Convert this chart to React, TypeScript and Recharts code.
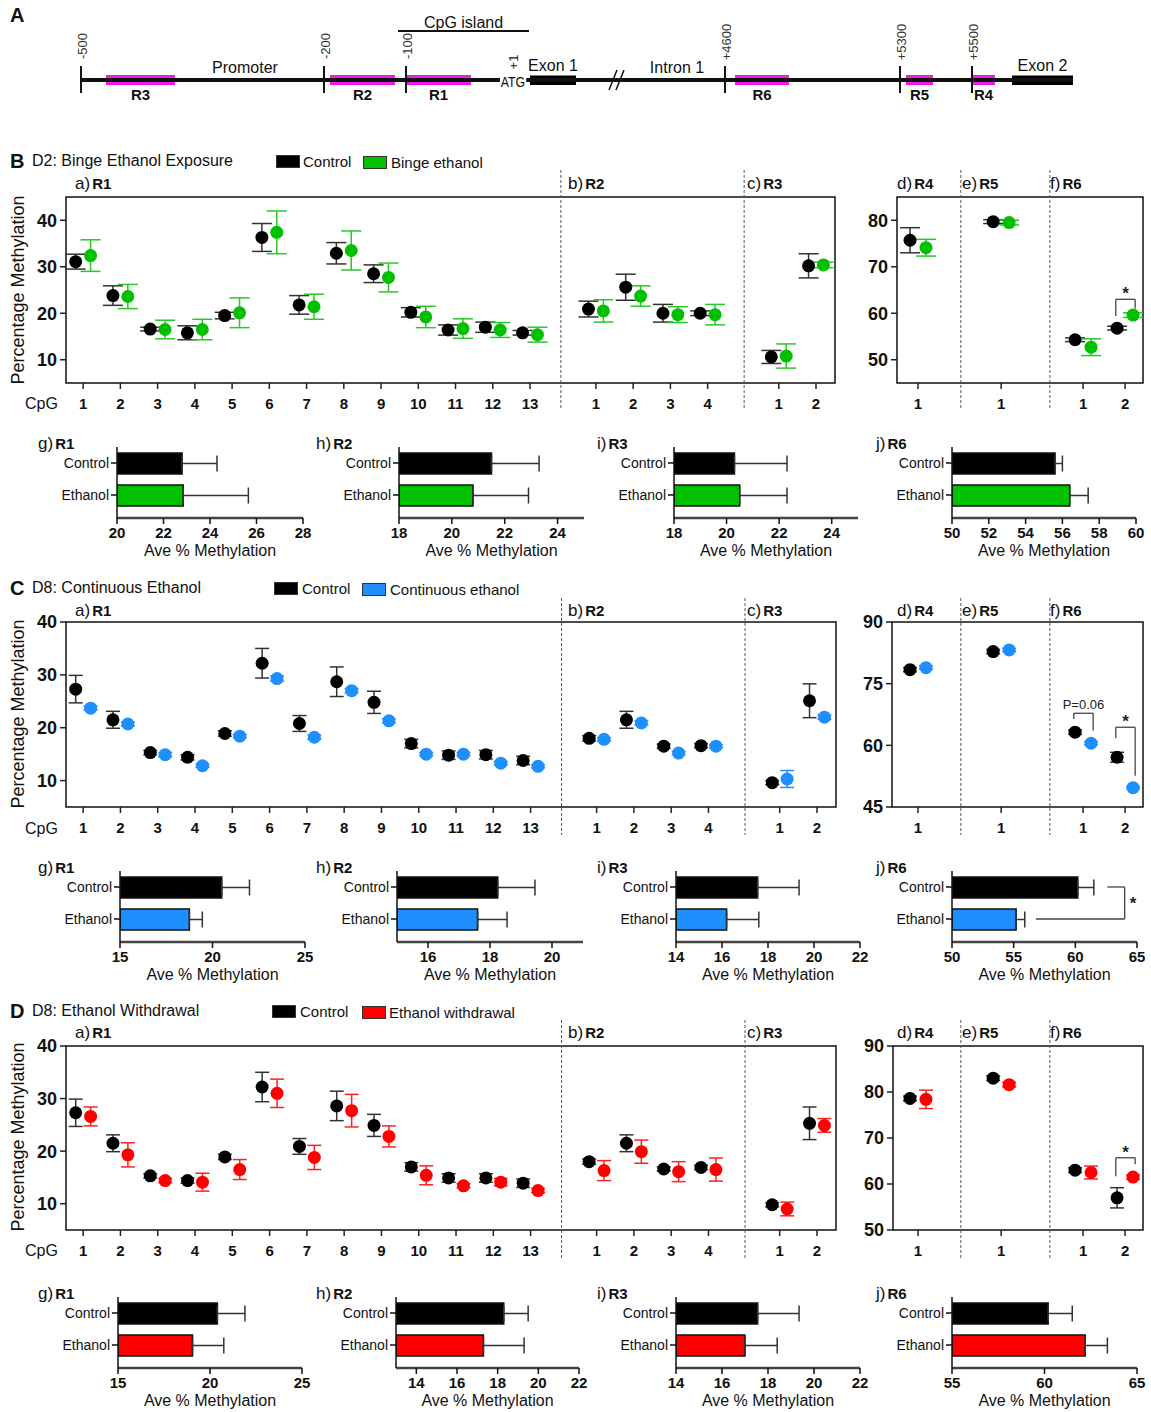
import React from "react";
import {
  ComposedChart, ScatterChart, Scatter, ErrorBar, XAxis, YAxis,
  ReferenceLine, ReferenceArea, BarChart, Bar, Cell,
} from "recharts";

const FONT = "'Liberation Sans', Arial, Helvetica, sans-serif";

// ---------- gene map (panel A), diagram units ----------
const backbone = [81, 1073];
const promoterTicks = [
  { label: "-500", pos: 81 }, { label: "-200", pos: 324 }, { label: "-100", pos: 406 },
  { label: "+4600", pos: 725 }, { label: "+5300", pos: 900 }, { label: "+5500", pos: 972 },
];
const ampliconRegions = [
  { name: "R3", from: 106, to: 175 }, { name: "R2", from: 330, to: 395 },
  { name: "R1", from: 406, to: 471 }, { name: "R6", from: 735, to: 789 },
  { name: "R5", from: 906, to: 933 }, { name: "R4", from: 972, to: 995 },
];
const exonBlocks = [
  { name: "Exon 1", from: 530, to: 576 },
  { name: "Exon 2", from: 1012, to: 1073 },
];
const cpgIsland = [398, 529];

// ---------- CpG tick labels ----------
const r1CpG = ["1", "2", "3", "4", "5", "6", "7", "8", "9", "10", "11", "12", "13"];
const r2CpG = ["1", "2", "3", "4"];
const r3CpG = ["1", "2"];
const r4CpG = ["1"];
const r5CpG = ["1"];
const r6CpG = ["1", "2"];

// ---------- B: D2 binge, [mean, sem] ----------
const bingeCtrlR1 = [[31.1, 1.6], [23.8, 2.1], [16.6, 0.4], [15.8, 1.5], [19.5, 0.7], [36.3, 3.0], [21.8, 2.0], [32.9, 2.3], [28.5, 1.9], [20.2, 1.0], [16.4, 1.1], [17.0, 1.1], [15.8, 0.5]];
const bingeEtohR1 = [[32.4, 3.4], [23.6, 2.6], [16.5, 2.0], [16.5, 2.2], [20.1, 3.2], [37.4, 4.6], [21.4, 2.7], [33.5, 4.2], [27.7, 3.1], [19.2, 2.3], [16.7, 2.1], [16.4, 1.6], [15.4, 1.6]];
const bingeCtrlR2 = [[20.9, 1.7], [25.6, 2.8], [20.0, 1.9], [20.0, 0.5]];
const bingeEtohR2 = [[20.5, 2.4], [23.7, 2.2], [19.7, 1.7], [19.7, 2.2]];
const bingeCtrlR3 = [[10.6, 1.4], [30.2, 2.6]];
const bingeEtohR3 = [[10.8, 2.6], [30.4, 0.6]];
const bingeCtrlR4 = [[75.7, 2.7]];
const bingeEtohR4 = [[74.1, 1.8]];
const bingeCtrlR5 = [[79.7, 0.4]];
const bingeEtohR5 = [[79.5, 0.5]];
const bingeCtrlR6 = [[54.3, 0.4], [56.8, 0.4]];
const bingeEtohR6 = [[52.7, 1.8], [59.6, 0.5]];
const bingeSig = [{ region: 2, idx: 1, level: 63.0, leftEnd: 59.4, rightEnd: 61.0, text: "*" }];

// ---------- C: D8 continuous ----------
const contCtrlR1 = [[27.3, 2.6], [21.5, 1.6], [15.3, 0.4], [14.4, 0.5], [18.9, 0.5], [32.2, 2.8], [20.8, 1.5], [28.7, 2.8], [24.8, 2.1], [17.0, 0.8], [14.8, 0.8], [14.9, 0.8], [13.8, 0.8]];
const contEtohR1 = [[23.7, 0.4], [20.7, 0.4], [14.9, 0.4], [12.8, 0.3], [18.4, 0.3], [29.3, 0.5], [18.2, 0.4], [27.0, 0.4], [21.3, 0.4], [15.0, 0.3], [15.0, 0.3], [13.3, 0.3], [12.7, 0.3]];
const contCtrlR2 = [[18.0, 0.5], [21.5, 1.6], [16.5, 0.4], [16.6, 0.4]];
const contEtohR2 = [[17.8, 0.3], [20.9, 0.4], [15.2, 0.3], [16.5, 0.3]];
const contCtrlR3 = [[9.6, 0.4], [25.1, 3.2]];
const contEtohR3 = [[10.3, 1.6], [22.0, 0.4]];
const contCtrlR4 = [[78.4, 0.5]];
const contEtohR4 = [[78.9, 0.4]];
const contCtrlR5 = [[82.8, 0.5]];
const contEtohR5 = [[83.2, 0.4]];
const contCtrlR6 = [[63.2, 0.5], [57.1, 1.2]];
const contEtohR6 = [[60.5, 0.4], [49.7, 0.3]];
const contSig = [
  { region: 2, idx: 0, level: 67.8, leftEnd: 66.4, rightEnd: 63.6, text: "P=0.06" },
  { region: 2, idx: 1, level: 64.4, leftEnd: 61.7, rightEnd: 52.6, text: "*" },
];

// ---------- D: D8 withdrawal ----------
const wdCtrlR1 = [[27.3, 2.6], [21.5, 1.6], [15.3, 0.4], [14.4, 0.5], [18.9, 0.5], [32.2, 2.8], [20.9, 1.5], [28.6, 2.8], [24.9, 2.1], [17.0, 0.8], [14.9, 0.8], [14.9, 0.8], [13.9, 0.8]];
const wdEtohR1 = [[26.6, 1.8], [19.3, 2.3], [14.4, 0.4], [14.1, 1.7], [16.5, 1.9], [31.0, 2.7], [18.8, 2.3], [27.7, 3.1], [22.8, 2.0], [15.4, 1.8], [13.4, 0.4], [14.1, 0.7], [12.5, 0.4]];
const wdCtrlR2 = [[18.0, 0.5], [21.5, 1.6], [16.6, 0.4], [16.9, 0.4]];
const wdEtohR2 = [[16.3, 1.9], [19.9, 2.2], [16.1, 1.9], [16.5, 2.2]];
const wdCtrlR3 = [[9.8, 0.4], [25.3, 3.1]];
const wdEtohR3 = [[9.0, 1.3], [24.9, 1.3]];
const wdCtrlR4 = [[78.6, 0.5]];
const wdEtohR4 = [[78.4, 2.0]];
const wdCtrlR5 = [[83.0, 0.5]];
const wdEtohR5 = [[81.6, 0.5]];
const wdCtrlR6 = [[63.0, 0.5], [57.0, 2.2]];
const wdEtohR6 = [[62.5, 1.4], [61.5, 0.5]];
const wdSig = [{ region: 2, idx: 1, level: 65.7, leftEnd: 61.7, rightEnd: 64.3, text: "*" }];

// ---------- averages (bars g-j) ----------
const barRegions = ["R1", "R2", "R3", "R6"];
const barLetters = ["g)", "h)", "i)", "j)"];
const bingeBarCtrl = [[22.8, 1.5], [21.5, 1.8], [20.3, 2.0], [55.6, 0.4]];
const bingeBarEtoh = [[22.85, 2.8], [20.8, 2.1], [20.5, 1.8], [56.4, 1.0]];
const bingeBarDomains = [[20, 28], [18, 25], [18, 25], [50, 60]];
const bingeBarTicks = [[20, 22, 24, 26, 28], [18, 20, 22, 24], [18, 20, 22, 24], [50, 52, 54, 56, 58, 60]];
const contBarCtrl = [[20.5, 1.5], [18.25, 1.2], [17.55, 1.8], [60.2, 1.3]];
const contBarEtoh = [[18.75, 0.7], [17.6, 0.95], [16.2, 1.4], [55.2, 0.7]];
const contBarDomains = [[15, 25], [15, 21], [14, 22], [50, 65]];
const contBarTicks = [[15, 20, 25], [16, 18, 20], [14, 16, 18, 20, 22], [50, 55, 60, 65]];
const contBarSig = [{ panel: 3, ctrlFrom: 62.6, etohFrom: 56.8, at: 64.0, text: "*" }];
const wdBarCtrl = [[20.4, 1.5], [18.3, 1.2], [17.55, 1.8], [60.2, 1.3]];
const wdBarEtoh = [[19.05, 1.7], [17.3, 2.0], [17.0, 1.4], [62.2, 1.2]];
const wdBarDomains = [[15, 25], [13, 22], [14, 22], [55, 65]];
const wdBarTicks = [[15, 20, 25], [14, 16, 18, 20, 22], [14, 16, 18, 20, 22], [55, 60, 65]];

// ---------- layout ----------
const MAIN_OFFSETS = [1, 14.77, 19.68];
const MAIN_DOMAIN = [0.54, 21.19];
const MAIN_DIVIDERS = [13.83, 18.75];
const SIDE_OFFSETS = [0, 1.98, 3.93];
const SIDE_DIVIDERS = [1.02, 3.14];
const SIDE_TICK0 = 918;
const SIDE_PX = 42;
const SIDE_RIGHT = 1143;

function toPoints(regions: number[][][], offsets: number[], shift: number) {
  return regions.flatMap((reg, r) => reg.map(([m, e], i) => ({ x: offsets[r] + i + shift, y: m, e })));
}
function toTicks(labels: string[][], offsets: number[]) {
  return labels.flatMap((ls, r) => ls.map((label, i) => ({ pos: offsets[r] + i, label })));
}

function Txt({ x, y, children, size = 16, bold = false, anchor = "start", rotate = 0, color = "#111", style = {} }: any) {
  const tx = anchor === "middle" ? "-50%" : anchor === "end" ? "-100%" : "0";
  return (
    <div
      style={{
        position: "absolute", left: x, top: y, whiteSpace: "nowrap", lineHeight: 1,
        transform: `translate(${tx}, -50%)${rotate ? ` rotate(${rotate}deg)` : ""}`,
        fontSize: size, fontWeight: bold ? 700 : 400, color, ...style,
      }}
    >
      {children}
    </div>
  );
}

function PanelTag({ x, y, tag, name }: any) {
  return (
    <div style={{ position: "absolute", left: x, top: y, transform: "translateY(-50%)", whiteSpace: "nowrap", lineHeight: 1 }}>
      <span style={{ fontSize: 17 }}>{tag}</span>
      <span style={{ fontSize: 15, fontWeight: 700, marginLeft: 2 }}>{name}</span>
    </div>
  );
}

function ScatterPanel(p: any) {
  const { left, width, top, height, plot, xDomain, yDomain, yTicks, ticks, dividers, ext, ctrl, trt, color, errColor, cap, brackets, offsets } = p;
  const xAxisH = 30;
  const margin = { top: plot.t - top, right: left + width - plot.r, bottom: top + height - plot.b - xAxisH, left: 2 };
  const perPx = (yDomain[1] - yDomain[0]) / (plot.b - plot.t);
  const yHi = yDomain[1] + (plot.t - ext[0]) * perPx;
  const yLo = yDomain[0] - (ext[1] - plot.b) * perPx;
  const labelOf = (v: number) => {
    const t = ticks.find((k: any) => Math.abs(k.pos - v) < 1e-6);
    return t ? t.label : "";
  };
  const dot = (fill: string) => (s: any) => <circle cx={s.cx} cy={s.cy} r={6.5} fill={fill} />;
  return (
    <div style={{ position: "absolute", left, top }}>
      <ScatterChart width={width} height={height} margin={margin}>
        <XAxis
          type="number" dataKey="x" domain={xDomain} ticks={ticks.map((t: any) => t.pos)} tickFormatter={labelOf}
          allowDataOverflow interval={0} height={xAxisH} axisLine={false}
          tickLine={{ stroke: "#222", strokeWidth: 1.5 }} tickSize={6} tickMargin={9}
          tick={{ fontSize: 15, fontWeight: 700, fill: "#111", fontFamily: FONT }}
        />
        <YAxis
          type="number" dataKey="y" domain={yDomain} ticks={yTicks} allowDataOverflow interval={0}
          width={plot.l - left - 2} axisLine={false} tickLine={{ stroke: "#222", strokeWidth: 1.5 }}
          tickSize={6} tickMargin={3}
          tick={{ fontSize: 18, fontWeight: 700, fill: "#111", fontFamily: FONT }}
        />
        <ReferenceArea x1={xDomain[0]} x2={xDomain[1]} y1={yDomain[0]} y2={yDomain[1]} fill="none" stroke="#111" strokeWidth={1.5} fillOpacity={0} ifOverflow="visible" />
        {dividers.map((d: number) => (
          <ReferenceLine key={`d${d}`} segment={[{ x: d, y: yHi }, { x: d, y: yLo }]} stroke="#555" strokeDasharray="3 2" strokeWidth={1} ifOverflow="visible" />
        ))}
        <Scatter data={ctrl} dataKey="y" fill="#000" shape={dot("#000")} isAnimationActive={false}>
          <ErrorBar dataKey="e" direction="y" width={cap} stroke="#333" strokeWidth={1.5} />
        </Scatter>
        <Scatter data={trt} dataKey="y" fill={color} shape={dot(color)} isAnimationActive={false}>
          <ErrorBar dataKey="e" direction="y" width={cap} stroke={errColor} strokeWidth={1.5} />
        </Scatter>
        {(brackets || []).flatMap((s: any, i: number) => {
          const pos = offsets[s.region] + s.idx;
          const xl = pos - 0.22;
          const xr = pos + 0.24;
          const star = s.text === "*";
          return [
            <ReferenceLine key={`bl${i}`} segment={[{ x: xl, y: s.leftEnd }, { x: xl, y: s.level }]} stroke="#444" strokeWidth={1.3} ifOverflow="visible" />,
            <ReferenceLine
              key={`bh${i}`} segment={[{ x: xl, y: s.level }, { x: xr, y: s.level }]} stroke="#444" strokeWidth={1.3} ifOverflow="visible"
              label={{ value: s.text, position: "top", offset: star ? 0 : 4, fontSize: star ? 17 : 13, fontWeight: star ? 700 : 400, fill: "#222", fontFamily: FONT }}
            />,
            <ReferenceLine key={`br${i}`} segment={[{ x: xr, y: s.level }, { x: xr, y: s.rightEnd }]} stroke="#444" strokeWidth={1.3} ifOverflow="visible" />,
          ];
        })}
      </ScatterChart>
    </div>
  );
}

function BarPanel({ plotL, plotR, axisY, domain, ticks, rows, sig }: any) {
  const yW = 72;
  const left = plotL - yW;
  const width = plotR - left + 12;
  const top = axisY - 78;
  return (
    <div style={{ position: "absolute", left, top }}>
      <BarChart layout="vertical" width={width} height={123} data={rows} margin={{ top: 7, right: 12, bottom: 0, left: 0 }}>
        <XAxis
          type="number" domain={domain} ticks={ticks} allowDataOverflow interval={0} height={45}
          axisLine={{ stroke: "#444", strokeWidth: 2.5 }} tickLine={{ stroke: "#111", strokeWidth: 1.5 }} tickSize={6} tickMargin={3}
          tick={{ fontSize: 15, fontWeight: 700, fill: "#111", fontFamily: FONT }}
        />
        <YAxis
          type="category" dataKey="name" width={yW} padding={{ top: 0, bottom: 7 }}
          axisLine={{ stroke: "#111", strokeWidth: 1.5 }} tickLine={{ stroke: "#111", strokeWidth: 1.5 }} tickSize={6} tickMargin={2}
          tick={{ fontSize: 14, fill: "#111", fontFamily: FONT }}
        />
        <Bar dataKey="v" barSize={21} stroke="#111" strokeWidth={1.5} isAnimationActive={false}>
          {rows.map((r: any) => <Cell key={r.name} fill={r.fill} />)}
          <ErrorBar dataKey="err" direction="x" width={8} stroke="#333" strokeWidth={1.5} />
        </Bar>
        {sig && [
          <ReferenceLine key="s1" segment={[{ x: sig.ctrlFrom, y: "Control" }, { x: sig.at, y: "Control" }]} stroke="#444" strokeWidth={1.3} ifOverflow="visible" />,
          <ReferenceLine key="s2" segment={[{ x: sig.etohFrom, y: "Ethanol" }, { x: sig.at, y: "Ethanol" }]} stroke="#444" strokeWidth={1.3} ifOverflow="visible" />,
          <ReferenceLine
            key="s3" segment={[{ x: sig.at, y: "Control" }, { x: sig.at, y: "Ethanol" }]} stroke="#444" strokeWidth={1.3} ifOverflow="visible"
            label={{ value: sig.text, position: "right", offset: 5, fontSize: 17, fontWeight: 700, fill: "#222", fontFamily: FONT }}
          />,
        ]}
      </BarChart>
      <Txt x={plotL - left + (plotR - plotL) / 2} y={111} size={16} anchor="middle">Ave % Methylation</Txt>
    </div>
  );
}

function Section(c: any) {
  const mainTicks = toTicks([r1CpG, r2CpG, r3CpG], MAIN_OFFSETS);
  const sideTicks = toTicks([r4CpG, r5CpG, r6CpG], SIDE_OFFSETS);
  const sideDomain = [(c.side.l - SIDE_TICK0) / SIDE_PX, (SIDE_RIGHT - SIDE_TICK0) / SIDE_PX];
  const mainTop = c.ext[0] - 6;
  const mainH = c.main.b + 36 - mainTop;
  const regionTags = [
    { x: 75, tag: "a)", name: "R1" }, { x: 568, tag: "b)", name: "R2" }, { x: 747, tag: "c)", name: "R3" },
    { x: 897, tag: "d)", name: "R4" }, { x: 962, tag: "e)", name: "R5" }, { x: 1050, tag: "f)", name: "R6" },
  ];
  const barTagX = [38, 316, 597, 876];
  return (
    <>
      <Txt x={10} y={c.titleY} size={20} bold>{c.letter}</Txt>
      <Txt x={32} y={c.titleY} size={16}>{c.title}</Txt>
      <div style={{ position: "absolute", left: c.legendX[0], top: c.titleY - 6, width: 22, height: 11, background: "#000", border: "1px solid #333" }} />
      <Txt x={c.legendX[1]} y={c.titleY} size={15}>Control</Txt>
      <div style={{ position: "absolute", left: c.legendX[2], top: c.titleY - 5, width: 22, height: 11, background: c.color, border: "1px solid #333" }} />
      <Txt x={c.legendX[3]} y={c.titleY + 1} size={15}>{c.legend}</Txt>
      <Txt x={18} y={c.yTitleY} size={18} anchor="middle" rotate={-90}>Percentage Methylation</Txt>
      {regionTags.map((t) => <PanelTag key={t.tag} x={t.x} y={c.regionY} tag={t.tag} name={t.name} />)}
      <Txt x={25} y={c.cpgY} size={16}>CpG</Txt>

      <ScatterPanel
        left={0} width={850} top={mainTop} height={mainH} plot={c.main}
        xDomain={MAIN_DOMAIN} yDomain={c.mainY} yTicks={c.mainTicks} ticks={mainTicks}
        dividers={MAIN_DIVIDERS} ext={c.ext} offsets={MAIN_OFFSETS}
        ctrl={toPoints(c.ctrlMain, MAIN_OFFSETS, -0.2)} trt={toPoints(c.trtMain, MAIN_OFFSETS, 0.2)}
        color={c.color} errColor={c.errColor} cap={c.cap}
      />
      <ScatterPanel
        left={850} width={301} top={mainTop} height={mainH} plot={{ l: c.side.l, r: SIDE_RIGHT, t: c.main.t, b: c.main.b }}
        xDomain={sideDomain} yDomain={c.sideY} yTicks={c.sideTicks} ticks={sideTicks}
        dividers={SIDE_DIVIDERS} ext={c.ext} offsets={SIDE_OFFSETS}
        ctrl={toPoints(c.ctrlSide, SIDE_OFFSETS, -0.19)} trt={toPoints(c.trtSide, SIDE_OFFSETS, 0.19)}
        color={c.color} errColor={c.errColor} cap={c.cap} brackets={c.sig}
      />

      {barRegions.map((reg, i) => (
        <React.Fragment key={reg}>
          <PanelTag x={barTagX[i]} y={c.barLabelY} tag={barLetters[i]} name={reg} />
          <BarPanel
            plotL={c.barL[i]} plotR={c.barR[i]} axisY={c.barAxisY}
            domain={c.barDomains[i]} ticks={c.barTicks[i]}
            rows={[
              { name: "Control", v: c.barCtrl[i][0], err: [0, c.barCtrl[i][1]], fill: "#000" },
              { name: "Ethanol", v: c.barEtoh[i][0], err: [0, c.barEtoh[i][1]], fill: c.color },
            ]}
            sig={(c.barSig || []).find((s: any) => s.panel === i)}
          />
        </React.Fragment>
      ))}
    </>
  );
}

function GeneMap() {
  const tickPts = promoterTicks.map((t) => ({ x: t.pos, y: 80 }));
  const tickShape = (s: any) => <line x1={s.cx} x2={s.cx} y1={s.cy - 14} y2={s.cy + 13} stroke="#111" strokeWidth={2} />;
  return (
    <>
      <div style={{ position: "absolute", left: 0, top: 0 }}>
        <ComposedChart width={1151} height={110} margin={{ top: 0, right: 0, bottom: 0, left: 0 }}>
          <XAxis type="number" dataKey="x" domain={[0, 1151]} hide allowDataOverflow />
          <YAxis type="number" dataKey="y" domain={[0, 110]} reversed hide allowDataOverflow width={0} />
          <ReferenceLine segment={[{ x: backbone[0], y: 80 }, { x: backbone[1], y: 80 }]} stroke="#111" strokeWidth={4} ifOverflow="visible" />
          <ReferenceArea x1={610} x2={625} y1={72} y2={88} fill="#fff" fillOpacity={1} stroke="none" ifOverflow="visible" />
          <ReferenceLine segment={[{ x: 609, y: 90 }, { x: 617, y: 70 }]} stroke="#111" strokeWidth={1.5} ifOverflow="visible" />
          <ReferenceLine segment={[{ x: 616, y: 90 }, { x: 624, y: 70 }]} stroke="#111" strokeWidth={1.5} ifOverflow="visible" />
          <ReferenceLine
            segment={[{ x: cpgIsland[0], y: 31 }, { x: cpgIsland[1], y: 31 }]} stroke="#111" strokeWidth={2} ifOverflow="visible"
            label={{ value: "CpG island", position: "top", offset: 3, fontSize: 16, fill: "#111", fontFamily: FONT }}
          />
          {exonBlocks.map((e) => (
            <ReferenceArea
              key={e.name} x1={e.from} x2={e.to} y1={75.5} y2={85} fill="#000" fillOpacity={1} stroke="none" ifOverflow="visible"
              label={{ value: e.name, position: "top", offset: 5, fontSize: 16, fill: "#111", fontFamily: FONT }}
            />
          ))}
          {ampliconRegions.map((r) => (
            <ReferenceArea
              key={r.name} x1={r.from} x2={r.to} y1={75} y2={85} fill="#ee1ee8" fillOpacity={1} stroke="none" ifOverflow="visible"
              label={{ value: r.name, position: "bottom", offset: 4, fontSize: 15, fontWeight: 700, fill: "#111", fontFamily: FONT }}
            />
          ))}
          <Scatter data={tickPts} dataKey="y" shape={tickShape} isAnimationActive={false} />
        </ComposedChart>
      </div>
      <Txt x={10} y={15} size={20} bold>A</Txt>
      <Txt x={245} y={68} size={16} anchor="middle">Promoter</Txt>
      <Txt x={677} y={68} size={16} anchor="middle">Intron 1</Txt>
      <Txt x={513} y={81} size={15} anchor="middle" style={{ background: "#fff", padding: "0 1px", transform: "translate(-50%, -50%) scaleX(0.82)" }}>ATG</Txt>
      <Txt x={513} y={62} size={13} anchor="middle" rotate={-90} color="#222">+1</Txt>
      {promoterTicks.map((t) => (
        <Txt key={t.label} x={t.pos + 1} y={t.label.length > 4 ? 42 : 46} size={13} anchor="middle" rotate={-90} color="#333">{t.label}</Txt>
      ))}
    </>
  );
}

const bingeCfg = {
  letter: "B", title: "D2: Binge Ethanol Exposure", legend: "Binge ethanol", color: "#00c000", errColor: "#28c828",
  titleY: 161, regionY: 183, cpgY: 404, yTitleY: 290, legendX: [276, 303, 363, 391],
  main: { l: 66, r: 835, t: 197, b: 383 }, side: { l: 897 }, ext: [170, 410],
  mainY: [5, 45], mainTicks: [10, 20, 30, 40], sideY: [45, 85], sideTicks: [50, 60, 70, 80],
  ctrlMain: [bingeCtrlR1, bingeCtrlR2, bingeCtrlR3], trtMain: [bingeEtohR1, bingeEtohR2, bingeEtohR3],
  ctrlSide: [bingeCtrlR4, bingeCtrlR5, bingeCtrlR6], trtSide: [bingeEtohR4, bingeEtohR5, bingeEtohR6],
  sig: bingeSig, cap: 10,
  barLabelY: 443, barAxisY: 518, barL: [117, 399, 674, 952], barR: [303, 584, 858, 1136],
  barDomains: bingeBarDomains, barTicks: bingeBarTicks, barCtrl: bingeBarCtrl, barEtoh: bingeBarEtoh,
};

const contCfg = {
  letter: "C", title: "D8: Continuous Ethanol", legend: "Continuous ethanol", color: "#1e8fff", errColor: "#1e8fff",
  titleY: 588, regionY: 610, cpgY: 829, yTitleY: 714, legendX: [274, 302, 362, 390],
  main: { l: 66, r: 836, t: 622, b: 807 }, side: { l: 892 }, ext: [598, 835],
  mainY: [5, 40], mainTicks: [10, 20, 30, 40], sideY: [45, 90], sideTicks: [45, 60, 75, 90],
  ctrlMain: [contCtrlR1, contCtrlR2, contCtrlR3], trtMain: [contEtohR1, contEtohR2, contEtohR3],
  ctrlSide: [contCtrlR4, contCtrlR5, contCtrlR6], trtSide: [contEtohR4, contEtohR5, contEtohR6],
  sig: contSig, cap: 7,
  barLabelY: 867, barAxisY: 942, barL: [120, 397, 676, 952], barR: [305, 583, 860, 1137],
  barDomains: contBarDomains, barTicks: contBarTicks, barCtrl: contBarCtrl, barEtoh: contBarEtoh, barSig: contBarSig,
};

const wdCfg = {
  letter: "D", title: "D8: Ethanol Withdrawal", legend: "Ethanol withdrawal", color: "#ff0000", errColor: "#ff2020",
  titleY: 1011, regionY: 1032, cpgY: 1251, yTitleY: 1137, legendX: [272, 300, 362, 389],
  main: { l: 66, r: 836, t: 1046, b: 1230 }, side: { l: 893 }, ext: [1020, 1260],
  mainY: [5, 40], mainTicks: [10, 20, 30, 40], sideY: [50, 90], sideTicks: [50, 60, 70, 80, 90],
  ctrlMain: [wdCtrlR1, wdCtrlR2, wdCtrlR3], trtMain: [wdEtohR1, wdEtohR2, wdEtohR3],
  ctrlSide: [wdCtrlR4, wdCtrlR5, wdCtrlR6], trtSide: [wdEtohR4, wdEtohR5, wdEtohR6],
  sig: wdSig, cap: 7,
  barLabelY: 1293, barAxisY: 1368, barL: [118, 396, 676, 952], barR: [302, 579, 860, 1137],
  barDomains: wdBarDomains, barTicks: wdBarTicks, barCtrl: wdBarCtrl, barEtoh: wdBarEtoh,
};

export default function App() {
  return (
    <div style={{ position: "absolute", left: 0, top: 0, width: 1151, height: 1412, background: "#fff", fontFamily: FONT, color: "#111", overflow: "hidden" }}>
      <GeneMap />
      <Section {...bingeCfg} />
      <Section {...contCfg} />
      <Section {...wdCfg} />
    </div>
  );
}
